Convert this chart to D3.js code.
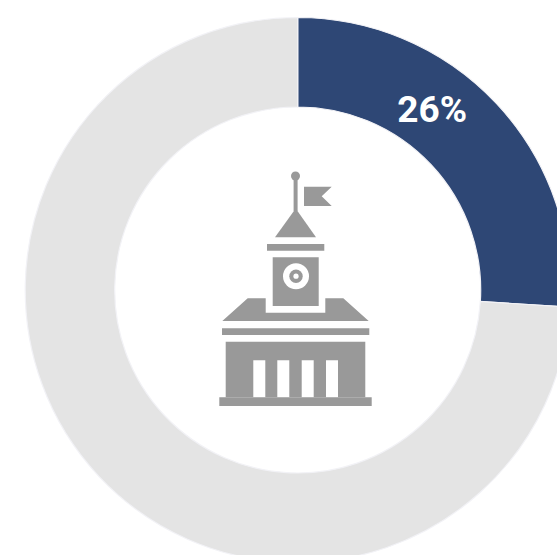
<!DOCTYPE html>
<html><head><meta charset="utf-8">
<script src="https://cdn.jsdelivr.net/npm/d3@7"></script>
<style>html,body{margin:0;padding:0;background:#fff;overflow:hidden}svg{display:block}</style>
</head><body><div id="chart"></div>
<script>
const categories = ["Share", "Remainder"];
const seriesValues = [26, 74];
const sliceColors = ["#2e4775", "#e4e4e4"];
const labelTexts = ["26%", ""];
const iconColor = "#999999";

const W = 557, H = 555, cx = 297.7, cy = 290, rOuter = 272.5, rInner = 183;
const svg = d3.select("#chart").append("svg").attr("width", W).attr("height", H);
const g = svg.append("g").attr("transform", `translate(${cx},${cy})`);

const pie = d3.pie().sort(null).value(d => d.value);
const arc = d3.arc().innerRadius(rInner).outerRadius(rOuter);
const data = categories.map((c, i) => ({name: c, value: seriesValues[i], color: sliceColors[i], label: labelTexts[i]}));
const arcs = pie(data);

g.selectAll("path.slice").data(arcs).join("path").attr("class", "slice")
  .attr("d", arc).attr("fill", d => d.data.color)
  .attr("stroke", "#f2f2f6").attr("stroke-width", 1.2);

g.selectAll("text.lbl").data(arcs.filter(d => d.data.label)).join("text").attr("class", "lbl")
  .attr("x", 134.5).attr("y", -167.7)
  .attr("text-anchor", "middle").attr("fill", "#fff")
  .style("font", "700 37px Roboto, sans-serif")
  .text(d => d.data.label);

// Building icon (pictogram, page coordinates)
const icon = svg.append("g").attr("fill", iconColor);
const polys = [
  "M295.7 208.5L316 237.3H275Z",
  "M304 186.7H331.7L321.7 196.3L331.7 206H304Z",
  "M293.6 176H297.6V211H293.6Z",
  "M267 244H324.3V250.7H267Z",
  "M272.7 257.3H318.7V306H272.7Z",
  "M222.3 321L247.7 298.3H265.7V312.7H325.3V298.3H343.3L368.7 321Z",
  "M222 328.3H369.3V335H222Z",
  "M225.7 341.7H365.3V397.3H338V360.3H326V397.3H313.7V360.3H301.7V397.3H289.3V360.3H277.3V397.3H265.3V360.3H253.3V397.3H225.7Z",
  "M219.3 397.3H371.7V406H219.3Z"
];
icon.selectAll("path").data(polys).join("path").attr("d", d => d);
icon.append("circle").attr("cx", 295.5).attr("cy", 176).attr("r", 4.5);
icon.append("circle").attr("cx", 296).attr("cy", 276.2).attr("r", 13).attr("fill", "#fff");
icon.append("circle").attr("cx", 296).attr("cy", 276.2).attr("r", 6.7);
icon.append("circle").attr("cx", 296).attr("cy", 276.2).attr("r", 2.6).attr("fill", "#fff");
</script></body></html>
